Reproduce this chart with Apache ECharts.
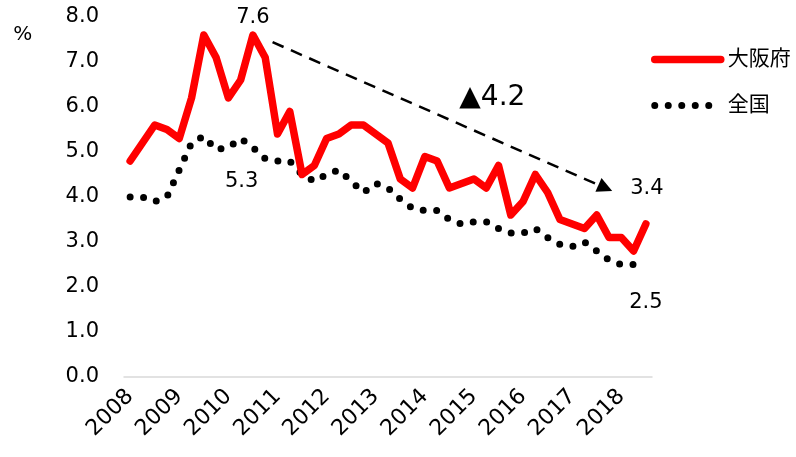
<!DOCTYPE html>
<html><head><meta charset="utf-8">
<script src="https://cdn.jsdelivr.net/npm/echarts@6/dist/echarts.min.js"></script>
<style>html,body{margin:0;padding:0;background:#fff}#c{width:796px;height:457px}</style>
</head><body><div id="c"></div>
<script>
const years = ['2008','2009','2010','2011','2012','2013','2014','2015','2016','2017','2018'];
const quarters = [];
years.forEach(y => { for (let q = 1; q <= 4; q++) quarters.push(y + '-' + q); });
const categories = quarters.slice(0, 43);
const osaka = [4.8,5.2,5.6,5.5,5.3,6.2,7.6,7.1,6.2,6.6,7.6,7.1,5.4,5.9,4.5,4.7,5.3,5.4,5.6,5.6,5.4,5.2,4.4,4.2,4.9,4.8,4.2,4.3,4.4,4.2,4.7,3.6,3.9,4.5,4.1,3.5,3.4,3.3,3.6,3.1,3.1,2.8,3.4];
const national = [4.0,4.0,3.9,4.0,4.6,5.2,5.35,5.05,5.1,5.3,5.1,4.85,4.8,4.8,4.5,4.35,4.5,4.6,4.35,4.1,4.3,4.2,3.95,3.75,3.7,3.7,3.5,3.4,3.45,3.45,3.3,3.2,3.2,3.3,3.1,2.95,2.9,3.0,2.8,2.6,2.5,2.5,2.5];
const trendStart = [11.6, 7.44];
const trendEnd = [38.7, 4.2];
const trendLabelPos = [29.5, 6.2];
const trendLabel = '▲4.2';
const yTicks = [0,1,2,3,4,5,6,7,8];

const FONT = 'DejaVu Sans';
const JP = '"DejaVu Sans","Noto Sans CJK JP"';
const chart = echarts.init(document.getElementById('c'));
const last = categories.length - 1;
const redLine = { color: '#ff0000', width: 7.5, cap: 'round', join: 'round' };
const dotLine = { color: '#000', width: 7, type: [0, 13.5], cap: 'round' };
chart.setOption({
  animation: false,
  textStyle: { fontFamily: JP, color: '#000' },
  grid: { left: 124, right: 144, top: 17, bottom: 80 },
  legend: {
    orient: 'vertical', left: 646, top: 44, itemGap: 25,
    itemWidth: 66, itemHeight: 14,
    itemStyle: { opacity: 0 },
    textStyle: { fontSize: 21, fontFamily: JP, color: '#000', padding: [0,0,0,2] },
    data: [
      { name: '大阪府', lineStyle: redLine, itemStyle: { opacity: 0 } },
      { name: '全国', lineStyle: dotLine, itemStyle: { opacity: 0 } }
    ]
  },
  xAxis: [{
    type: 'category', data: categories, boundaryGap: true,
    axisLine: { show: true, lineStyle: { color: '#d9d9d9', width: 1.5 } },
    axisTick: { show: false },
    axisLabel: {
      interval: 3, rotate: 45, margin: 16, fontSize: 22, fontFamily: FONT, color: '#000',
      formatter: v => v.split('-')[0]
    },
    splitLine: { show: false }
  }, {
    type: 'value', min: -0.5, max: categories.length - 0.5, show: false
  }],
  yAxis: {
    type: 'value', min: yTicks[0], max: yTicks[yTicks.length-1], interval: 1,
    axisLine: { show: false }, axisTick: { show: false }, splitLine: { show: false },
    axisLabel: { fontSize: 21, fontFamily: FONT, color: '#000', margin: 25, formatter: v => v.toFixed(1) },
    name: '%', nameLocation: 'end', nameGap: 0,
    nameTextStyle: { fontSize: 20, fontFamily: FONT, color: '#000', align: 'right', padding: [0, 98, -28, 0] }
  },
  series: [{
    name: '大阪府', type: 'line', data: osaka, symbol: 'none',
    lineStyle: redLine,
    itemStyle: { color: '#ff0000' },
    z: 3,
    markPoint: {
      symbol: 'circle', symbolSize: 0,
      label: { show: true, fontSize: 21, fontFamily: FONT, color: '#000' },
      data: [
        { coord: [10, osaka[10]], value: osaka[10].toFixed(1), label: { offset: [0, -17] } },
        { coord: [last, osaka[last]], value: osaka[last].toFixed(1), label: { offset: [1, -35] } }
      ]
    }
  }, {
    name: '全国', type: 'line', data: national, symbol: 'none',
    lineStyle: dotLine,
    itemStyle: { color: '#000' },
    z: 2,
    markPoint: {
      symbol: 'circle', symbolSize: 0,
      label: { show: true, fontSize: 21, fontFamily: FONT, color: '#000' },
      data: [
        { coord: [9, national[9]], value: national[9].toFixed(1), label: { offset: [1, 43] } },
        { coord: [last, national[last]], value: national[last].toFixed(1), label: { offset: [0, 38] } }
      ]
    }
  }, {
    name: 'trend', type: 'line', xAxisIndex: 1, data: [], symbol: 'none',
    markLine: {
      silent: true, symbol: ['none', 'triangle'], symbolSize: [15, 15],
      lineStyle: { color: '#000', width: 2.5, type: [12, 8] },
      label: { show: false },
      data: [[{ coord: trendStart }, { coord: trendEnd }]]
    },
    markPoint: {
      symbol: 'circle', symbolSize: 0,
      label: { show: true, fontSize: 28, fontFamily: FONT, color: '#000', formatter: trendLabel },
      data: [{ coord: trendLabelPos, value: 0 }]
    }
  }]
});
</script></body></html>
